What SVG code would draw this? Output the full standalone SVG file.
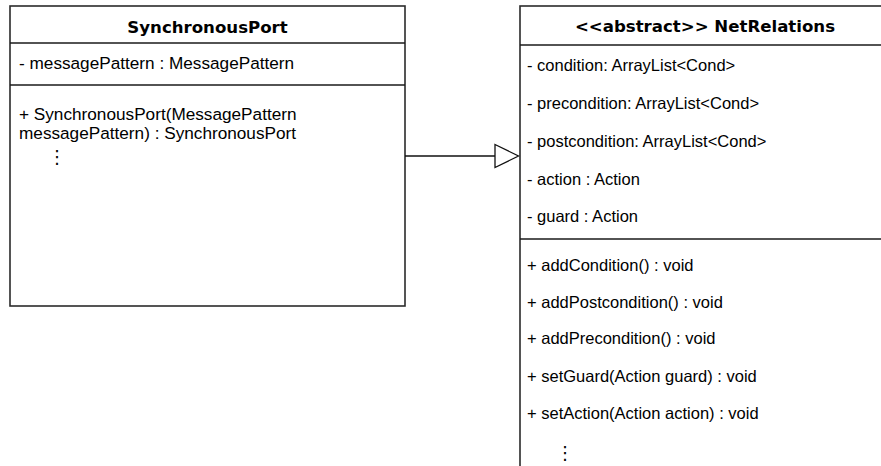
<svg xmlns="http://www.w3.org/2000/svg" width="881" height="466" viewBox="0 0 881 466">
  <style>
    .box { fill: #ffffff; stroke: #2b2b2b; stroke-width: 1.6; }
    .div { stroke: #1a1a1a; stroke-width: 1.3; fill: none; }
    .title { font-family: "DejaVu Sans", Verdana, sans-serif; font-weight: bold; font-size: 16.6px; fill: #000; text-anchor: middle; }
    .txt { font-family: "Liberation Sans", Arial, Helvetica, sans-serif; font-size: 16.5px; fill: #000; }
    .txt-l { font-size: 17.2px; }
    .dots { font-family: "DejaVu Sans", sans-serif; font-size: 18px; fill: #000; }
    .edge { stroke: #111; stroke-width: 1.3; fill: none; }
    .head { fill: #ffffff; stroke: #111; stroke-width: 1.3; }
  </style>
  <rect width="881" height="466" fill="#ffffff"/>

  <!-- class SynchronousPort -->
  <g id="synchronous-port">
    <rect class="box" x="10" y="6" width="395" height="300"/>
    <line class="div" x1="10" y1="43" x2="405" y2="43"/>
    <line class="div" x1="10" y1="85" x2="405" y2="85"/>
    <text class="title" x="207.5" y="33">SynchronousPort</text>
    <text class="txt txt-l" x="19" y="69">- messagePattern : MessagePattern</text>
    <text class="txt txt-l" x="19" y="119.5">+ SynchronousPort(MessagePattern</text>
    <text class="txt txt-l" x="19" y="139">messagePattern) : SynchronousPort</text>
    <text class="dots" x="48" y="163">⋮</text>
  </g>

  <!-- abstract class NetRelations (continues past the right and bottom edges) -->
  <g id="net-relations">
    <rect class="box" x="520" y="6" width="400" height="480"/>
    <line class="div" x1="520" y1="45" x2="881" y2="45"/>
    <line class="div" x1="520" y1="239" x2="881" y2="239"/>
    <text class="title" x="705" y="32">&lt;&lt;abstract&gt;&gt; NetRelations</text>
    <text class="txt" x="527" y="71">- condition: ArrayList&lt;Cond&gt;</text>
    <text class="txt" x="527" y="109">- precondition: ArrayList&lt;Cond&gt;</text>
    <text class="txt" x="527" y="147">- postcondition: ArrayList&lt;Cond&gt;</text>
    <text class="txt" x="527" y="185">- action : Action</text>
    <text class="txt" x="527" y="222">- guard : Action</text>
    <text class="txt" x="527" y="271">+ addCondition() : void</text>
    <text class="txt" x="527" y="308">+ addPostcondition() : void</text>
    <text class="txt" x="527" y="344">+ addPrecondition() : void</text>
    <text class="txt" x="527" y="382">+ setGuard(Action guard) : void</text>
    <text class="txt" x="527" y="419">+ setAction(Action action) : void</text>
    <text class="dots" x="556" y="459">⋮</text>
  </g>

  <!-- generalization: SynchronousPort extends NetRelations -->
  <g id="connectors">
    <line class="edge" x1="405" y1="156" x2="495" y2="156"/>
    <polygon class="head" points="495,144.5 518.5,156 495,167.5"/>
  </g>
</svg>
